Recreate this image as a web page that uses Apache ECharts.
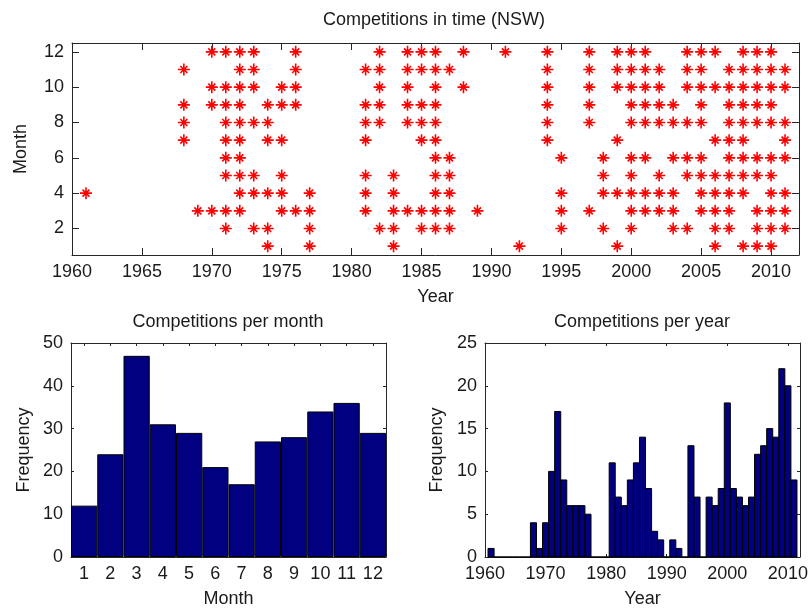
<!DOCTYPE html>
<html><head><meta charset="utf-8">
<script src="https://cdn.jsdelivr.net/npm/echarts@6/dist/echarts.min.js"></script>
<style>html,body{margin:0;padding:0;background:#fff}#c{width:808px;height:610px}</style>
</head><body><div id="c"></div>
<script>
// ---- Data: competitions (year) per month ----
const month1  = [1974, 1977, 1983, 1992, 1999, 2006, 2008, 2009, 2010];
const month2  = [1971, 1973, 1974, 1977, 1982, 1983, 1985, 1986, 1987, 1995, 1998, 2000, 2003, 2004, 2006, 2007, 2009, 2010, 2011];
const month3  = [1969, 1970, 1971, 1972, 1975, 1976, 1977, 1981, 1983, 1984, 1985, 1986, 1987, 1989, 1995, 1997, 2000, 2001, 2002, 2003, 2005, 2006, 2007, 2009, 2010, 2011];
const month4  = [1961, 1972, 1973, 1974, 1975, 1977, 1981, 1983, 1986, 1987, 1995, 1998, 1999, 2000, 2001, 2002, 2003, 2005, 2006, 2007, 2008, 2010, 2011];
const month5  = [1971, 1972, 1973, 1975, 1981, 1983, 1986, 1987, 1998, 2000, 2002, 2004, 2005, 2006, 2007, 2008, 2009, 2010];
const month6  = [1971, 1972, 1986, 1987, 1995, 1998, 2000, 2001, 2003, 2004, 2005, 2007, 2008, 2009, 2010, 2011];
const month7  = [1968, 1971, 1972, 1974, 1975, 1981, 1985, 1986, 1994, 1999, 2006, 2007, 2008, 2011];
const month8  = [1968, 1971, 1972, 1973, 1974, 1981, 1982, 1984, 1985, 1986, 1994, 1997, 2000, 2001, 2002, 2003, 2004, 2005, 2007, 2008, 2009, 2010, 2011];
const month9  = [1968, 1970, 1971, 1972, 1974, 1975, 1976, 1981, 1982, 1984, 1985, 1986, 1994, 1997, 2000, 2001, 2002, 2003, 2005, 2007, 2008, 2009, 2010];
const month10 = [1970, 1971, 1972, 1973, 1975, 1976, 1982, 1984, 1986, 1988, 1994, 1997, 1999, 2000, 2001, 2002, 2004, 2005, 2006, 2007, 2008, 2009, 2010, 2011];
const month11 = [1968, 1972, 1973, 1976, 1981, 1982, 1984, 1985, 1986, 1987, 1994, 1997, 1999, 2000, 2001, 2002, 2004, 2005, 2007, 2008, 2009, 2010, 2011];
const month12 = [1970, 1971, 1972, 1973, 1976, 1982, 1984, 1985, 1986, 1988, 1991, 1994, 1997, 1999, 2000, 2001, 2004, 2005, 2006, 2008, 2009, 2010];

// ---- Competitions per month histogram ----
const monthCategories = ['1','2','3','4','5','6','7','8','9','10','11','12'];
const monthCounts = [12, 24, 47, 31, 29, 21, 17, 27, 28, 34, 36, 29];

// ---- Competitions per year histogram ----
const histYears = [1961,1962,1963,1964,1965,1966,1967,1968,1969,1970,1971,1972,1973,1974,1975,1976,1977,1978,1979,1980,
  1981,1982,1983,1984,1985,1986,1987,1988,1989,1990,1991,1992,1993,1994,1995,1996,1997,1998,1999,2000,
  2001,2002,2003,2004,2005,2006,2007,2008,2009,2010,2011];
const yearCounts = [1,0,0,0,0,0,0,4,1,4,10,17,9,6,6,6,5,0,0,0,
  11,7,6,9,11,14,8,3,2,0,2,1,0,13,7,0,7,6,8,18,
  8,7,6,7,12,13,15,14,22,20,9];

// ---- Tick values ----
const timeXTicks = [1960, 1965, 1970, 1975, 1980, 1985, 1990, 1995, 2000, 2005, 2010];
const timeYTicks = [2, 4, 6, 8, 10, 12];
const yearXTicks = [1960, 1970, 1980, 1990, 2000, 2010];

// ---- Build ----
const FONT = "'Liberation Sans', Arial, Helvetica, sans-serif";
const AX = '#262626';
const TXT = '#1a1a1a';
const FS = 18;
const plain = v => String(v);

const monthLists = [month1, month2, month3, month4, month5, month6, month7, month8, month9, month10, month11, month12];
const scatterData = [];
monthLists.forEach((lst, i) => lst.forEach(y => scatterData.push([y, i + 1])));

function axis(o, tickLen, showLabel) {
  return Object.assign({
    axisLine: {show: true, onZero: false, lineStyle: {color: AX, width: 1}},
    axisTick: {show: true, inside: true, length: tickLen, lineStyle: {color: AX, width: 1}},
    axisLabel: {show: showLabel, color: TXT, fontSize: FS, fontFamily: FONT, formatter: plain},
    splitLine: {show: false},
    nameTextStyle: {color: TXT, fontSize: FS, fontFamily: FONT},
    nameLocation: 'middle'
  }, o);
}
function lbl(extra) {
  return Object.assign({show: true, margin: 8, color: TXT, fontSize: FS, fontFamily: FONT, formatter: plain}, extra || {});
}

const option = {
  animation: false,
  backgroundColor: '#fff',
  title: [
    {text: 'Competitions in time (NSW)', left: 434, top: 11, textAlign: 'center', padding: 0,
     textStyle: {color: TXT, fontSize: FS, fontWeight: 'normal', fontFamily: FONT}},
    {text: 'Competitions per month', left: 228, top: 313, textAlign: 'center', padding: 0,
     textStyle: {color: TXT, fontSize: FS, fontWeight: 'normal', fontFamily: FONT}},
    {text: 'Competitions per year', left: 642, top: 313, textAlign: 'center', padding: 0,
     textStyle: {color: TXT, fontSize: FS, fontWeight: 'normal', fontFamily: FONT}}
  ],
  grid: [
    {left: 72, top: 43, width: 727, height: 212, outerBoundsMode: 'none'},
    {left: 71, top: 343, width: 315, height: 214, outerBoundsMode: 'none'},
    {left: 485, top: 343, width: 315, height: 214, outerBoundsMode: 'none'}
  ],
  xAxis: [
    axis({gridIndex: 0, type: 'value', min: 1960, max: 2012, position: 'bottom',
      name: 'Year', nameGap: 33,
      axisTick: {show: true, inside: true, length: 7, customValues: timeXTicks, lineStyle: {color: AX}},
      axisLabel: lbl({customValues: timeXTicks})}, 7, true),
    axis({gridIndex: 0, type: 'value', min: 1960, max: 2012, position: 'top',
      axisTick: {show: true, inside: true, length: 7, customValues: timeXTicks, lineStyle: {color: AX}}}, 7, false),
    axis({gridIndex: 1, type: 'category', data: monthCategories, position: 'bottom', boundaryGap: true,
      name: 'Month', nameGap: 33,
      axisTick: {show: true, inside: true, length: 3, alignWithLabel: true, interval: 0, lineStyle: {color: AX}},
      axisLabel: lbl({interval: 0})}, 3, true),
    axis({gridIndex: 1, type: 'category', data: monthCategories, position: 'top', boundaryGap: true,
      axisTick: {show: true, inside: true, length: 3, alignWithLabel: true, interval: 0, lineStyle: {color: AX}}}, 3, false),
    axis({gridIndex: 2, type: 'value', min: 1960, max: 2012, position: 'bottom',
      name: 'Year', nameGap: 33,
      axisTick: {show: true, inside: true, length: 3, customValues: yearXTicks, lineStyle: {color: AX}},
      axisLabel: lbl({customValues: yearXTicks})}, 3, true),
    axis({gridIndex: 2, type: 'value', min: 1960, max: 2012, position: 'top',
      axisTick: {show: true, inside: true, length: 3, customValues: yearXTicks, lineStyle: {color: AX}}}, 3, false)
  ],
  yAxis: [
    axis({gridIndex: 0, type: 'value', min: 0.5, max: 12.5, position: 'left',
      name: 'Month', nameGap: 42,
      axisTick: {show: true, inside: true, length: 7, customValues: timeYTicks, lineStyle: {color: AX}},
      axisLabel: lbl({customValues: timeYTicks})}, 7, true),
    axis({gridIndex: 0, type: 'value', min: 0.5, max: 12.5, position: 'right',
      axisTick: {show: true, inside: true, length: 7, customValues: timeYTicks, lineStyle: {color: AX}}}, 7, false),
    axis({gridIndex: 1, type: 'value', min: 0, max: 50, interval: 10, position: 'left',
      name: 'Frequency', nameGap: 38}, 3, true),
    axis({gridIndex: 1, type: 'value', min: 0, max: 50, interval: 10, position: 'right'}, 3, false),
    axis({gridIndex: 2, type: 'value', min: 0, max: 25, interval: 5, position: 'left',
      name: 'Frequency', nameGap: 39}, 3, true),
    axis({gridIndex: 2, type: 'value', min: 0, max: 25, interval: 5, position: 'right'}, 3, false)
  ],
  series: [
    {
      type: 'scatter', xAxisIndex: 0, yAxisIndex: 0, data: scatterData,
      symbol: 'path://M0,-6L0,6M-6,0L6,0M-3.5,-3.5L3.5,3.5M-3.5,3.5L3.5,-3.5',
      symbolSize: 12,
      itemStyle: {color: 'rgba(0,0,0,0)', borderColor: '#ff0000', borderWidth: 1.6, opacity: 1},
      emphasis: {disabled: true},
      z: 3
    },
    {
      type: 'bar', xAxisIndex: 2, yAxisIndex: 2, data: monthCounts,
      barCategoryGap: '0%', barGap: '0%',
      itemStyle: {color: '#000080', borderColor: '#000', borderWidth: 1},
      emphasis: {disabled: true}
    },
    {
      type: 'custom', xAxisIndex: 4, yAxisIndex: 4,
      data: histYears.map((y, i) => [y, yearCounts[i]]),
      encode: {x: 0, y: 1},
      renderItem: function (params, api) {
        const yr = api.value(0), v = api.value(1);
        const p0 = api.coord([yr - 0.5, v]);
        const p1 = api.coord([yr + 0.5, 0]);
        return {
          type: 'rect',
          shape: {x: p0[0], y: p0[1], width: p1[0] - p0[0], height: p1[1] - p0[1]},
          style: {fill: '#000080', stroke: '#000', lineWidth: 1}
        };
      }
    }
  ]
};

const chart = echarts.init(document.getElementById('c'), null, {renderer: 'canvas'});
chart.setOption(option);
</script>
</body></html>
